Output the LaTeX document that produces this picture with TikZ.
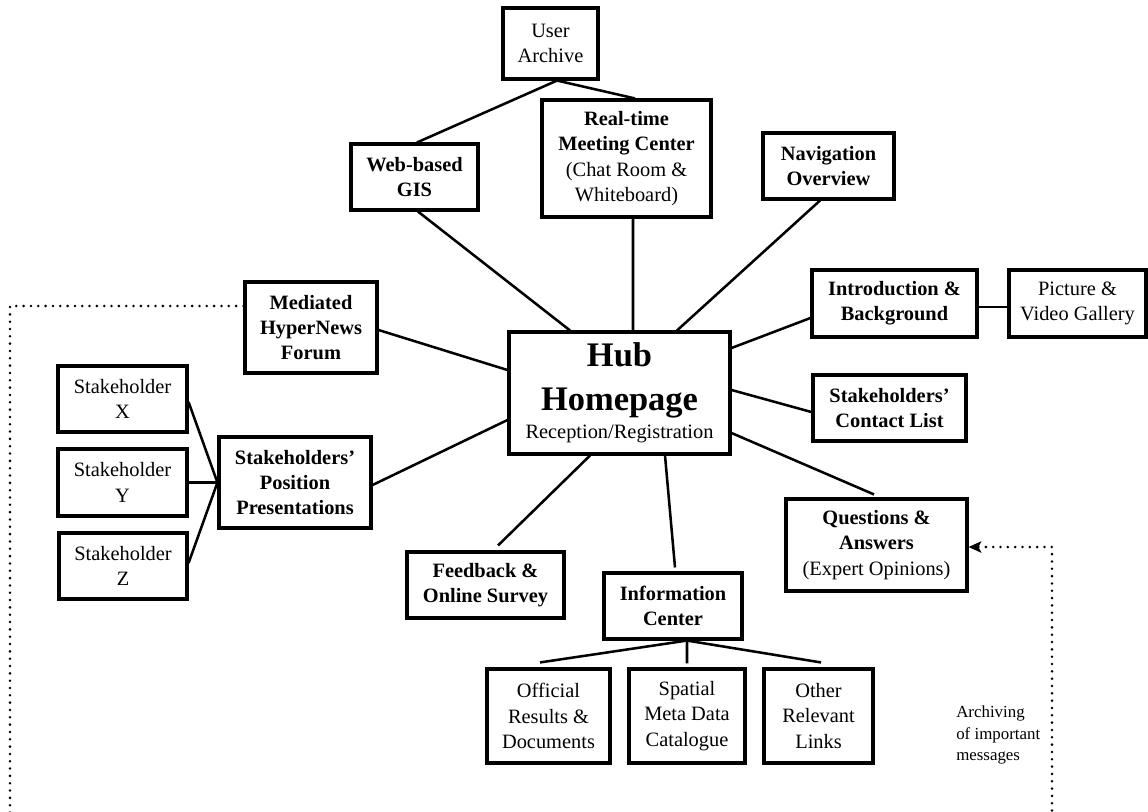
\documentclass[tikz,border=0pt]{standalone}
\usepackage{fontspec}
\setmainfont{Liberation Serif}
\usetikzlibrary{arrows.meta}
\begin{document}
\begin{tikzpicture}[x=0.025cm,y=-0.025cm,
  box/.style={draw, line width=2.2pt, inner sep=0pt, align=center,
    font=\fontsize{14.5}{18}\selectfont},
  bbox/.style={box, font=\fontsize{14.5}{18}\selectfont\bfseries},
  link/.style={line width=1.8pt},
  archive/.style={line width=2pt, line cap=round, dash pattern=on 0.01pt off 5.2pt},
  note/.style={align=left, inner sep=0pt, font=\fontsize{12}{15}\selectfont}
]
\useasboundingbox (0,0) rectangle (1148,811);
\clip (0,0) rectangle (1148,811);

% central hub
\node[box, minimum width=5.525cm, minimum height=3.05cm,
  font=\fontsize{24.5}{31}\selectfont\bfseries] (hub) at (619.5,393)
  {Hub\\Homepage\\[-11pt]{\mdseries\fontsize{14.5}{18}\selectfont Reception/Registration}};

% upper branch
\node[box, minimum width=2.375cm, minimum height=1.775cm] (ua) at (550.5,43.5) {User\\Archive};
\node[bbox, minimum width=3.175cm, minimum height=1.65cm] (gis) at (414.5,177) {Web-based\\GIS};
\node[box, minimum width=4.225cm, minimum height=2.925cm] (rt) at (626.5,158.5)
  {\textbf{Real-time}\\\textbf{Meeting Center}\\(Chat Room \&\\Whiteboard)};
\node[bbox, minimum width=3.275cm, minimum height=1.65cm] (nav) at (828.5,166) {Navigation\\Overview};

% left side
\node[bbox, minimum width=3.3cm, minimum height=2.275cm] (med) at (311,327.5) {Mediated\\HyperNews\\Forum};
\node[bbox, minimum width=3.8cm, minimum height=2.275cm] (pos) at (295,482.5) {Stakeholders'\\Position\\Presentations};
\node[box, minimum width=3.225cm, minimum height=1.65cm] (sx) at (122.5,399) {Stakeholder\\X};
\node[box, minimum width=3.225cm, minimum height=1.675cm] (sy) at (122.5,482.5) {Stakeholder\\Y};
\node[box, minimum width=3.2cm, minimum height=1.65cm] (sz) at (123,566) {Stakeholder\\Z};

% right side
\node[bbox, minimum width=4.125cm, minimum height=1.675cm] (intro) at (894.5,303.5) {Introduction \&\\Background};
\node[box, minimum width=3.425cm, minimum height=1.675cm] (pic) at (1077.5,303.5) {Picture \&\\Video Gallery};
\node[bbox, minimum width=3.825cm, minimum height=1.65cm] (contact) at (889.5,408) {Stakeholders'\\Contact List};
\node[box, minimum width=4.525cm, minimum height=2.3cm] (qa) at (876.5,545)
  {\textbf{Questions \&}\\\textbf{Answers}\\(Expert Opinions)};

% lower branch
\node[bbox, minimum width=3.925cm, minimum height=1.65cm] (fb) at (485.5,585) {Feedback \&\\Online Survey};
\node[bbox, minimum width=3.45cm, minimum height=1.65cm] (info) at (673,606) {Information\\Center};
\node[box, minimum width=3.075cm, minimum height=2.35cm] (off) at (548.5,716) {Official\\Results \&\\Documents};
\node[box, minimum width=2.9cm, minimum height=2.35cm] (sp) at (687,716) {Spatial\\Meta Data\\Catalogue};
\node[box, minimum width=2.725cm, minimum height=2.35cm] (oth) at (818.5,716) {Other\\Relevant\\Links};

\node[note, anchor=west] (arch) at (956,735) {Archiving\\of important\\messages};

% links from the hub
\draw[link] ([xshift=-1.2375cm]hub.north) -- ([xshift=0.0875cm]gis.south);
\draw[link] ([xshift=0.3375cm]hub.north) -- ([xshift=0.1625cm]rt.south);
\draw[link] ([xshift=1.4375cm]hub.north) -- ([xshift=-0.2125cm]nav.south);
\draw[link] ([yshift=0.575cm]hub.west) -- ([yshift=-0.0625cm]med.east);
\draw[link] ([yshift=-0.675cm]hub.west) -- ([yshift=-0.0625cm]pos.east);
\draw[link] ([xshift=-0.7375cm]hub.south) -- ([xshift=0.3125cm,yshift=0.125cm]fb.north);
\draw[link] ([xshift=1.1375cm]hub.south) -- ([xshift=0.05cm,yshift=0.1cm]info.north);
\draw[link] ([yshift=1.125cm]hub.east) -- ([yshift=-0.3625cm]intro.west);
\draw[link] ([yshift=0.075cm]hub.east) -- ([yshift=-0.1cm]contact.west);
\draw[link] ([yshift=-1.0cm]hub.east) -- ([xshift=-0.0625cm,yshift=0.075cm]qa.north);

% secondary links
\draw[link] ([yshift=-0.0875cm]intro.east) -- ([yshift=-0.0875cm]pic.west);
\draw[link] ([xshift=0.0625cm]gis.north) -- ([xshift=0.1625cm]ua.south)
  -- ([xshift=0.2125cm]rt.north);
\draw[link] ([yshift=-0.075cm]sx.east) -- (pos.west);
\draw[link] (sy.east) -- (pos.west);
\draw[link] ([yshift=0.075cm]sz.east) -- (pos.west);
\draw[link] ([xshift=-0.2125cm,yshift=0.125cm]off.north) -- ([xshift=0.35cm]info.south);
\draw[link] ([yshift=0.1cm]sp.north) -- ([xshift=0.35cm]info.south);
\draw[link] ([xshift=0.0625cm,yshift=0.125cm]oth.north) -- ([xshift=0.35cm]info.south);

% archiving route from the forum to the Q&A page
\coordinate (dl) at (10,306);
\coordinate (dlb) at (10,840);
\coordinate (drb) at (1052,840);
\coordinate (dr) at (1052,547);
\draw[archive, -{Stealth[length=9pt, width=8pt, inset=2pt]}]
  ([yshift=0.5375cm]med.west) -- (dl) -- (dlb) -- (drb) -- (dr) -- ([yshift=-0.05cm]qa.east);
\end{tikzpicture}
\end{document}
